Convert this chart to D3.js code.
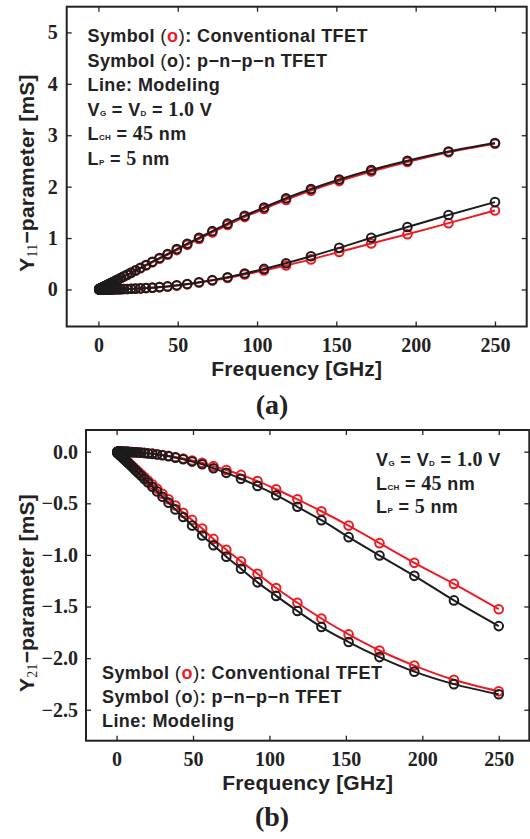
<!DOCTYPE html>
<html>
<head>
<meta charset="utf-8">
<script src="https://cdn.jsdelivr.net/npm/d3@7/dist/d3.min.js"></script>
<style>
  html, body { margin: 0; padding: 0; background: #fff; }
  svg { display: block; }
  .tick text { font-family: "Liberation Serif", "Times New Roman", serif; font-weight: bold; font-size: 20px; fill: #222; }
  .tick line { stroke: #222; stroke-width: 1.3; }
</style>
</head>
<body>
<svg id="fig" width="530" height="839"></svg>
<script>
// Frequency sweep points [GHz]
const freq = [0.5, 0.6, 0.7, 0.8, 0.9, 1.0, 1.2, 1.3, 1.5, 1.7, 1.9, 2.2, 2.5, 2.8, 3.2, 3.6, 4.1, 4.6, 5.2, 5.9,
  6.7, 7.6, 8.6, 9.8, 11.1, 12.5, 14.2, 16.1, 18.2, 20.6, 23.4, 26.5, 30.0, 34.0, 38.5, 43.6, 49.4, 56.0, 63.4, 71.8,
  81.4, 92.2, 104.4, 118.3, 134.0, 151.8, 172.0, 194.8, 220.7, 250];

// Y11 [mS], imaginary part (upper branch)
const y11ImConv = [0.008, 0.010, 0.011, 0.013, 0.014, 0.016, 0.019, 0.021, 0.024, 0.027, 0.030, 0.035, 0.039, 0.044, 0.050, 0.056, 0.064, 0.072, 0.081, 0.092,
  0.105, 0.119, 0.134, 0.153, 0.173, 0.195, 0.221, 0.251, 0.283, 0.321, 0.364, 0.412, 0.466, 0.528, 0.598, 0.675, 0.766, 0.868, 0.982, 1.110,
  1.253, 1.408, 1.566, 1.742, 1.922, 2.108, 2.295, 2.480, 2.670, 2.835];
const y11ImPnpn = [0.008, 0.010, 0.011, 0.013, 0.014, 0.016, 0.019, 0.021, 0.024, 0.027, 0.030, 0.035, 0.040, 0.045, 0.051, 0.057, 0.065, 0.073, 0.083, 0.094,
  0.107, 0.121, 0.137, 0.156, 0.177, 0.199, 0.226, 0.256, 0.289, 0.328, 0.372, 0.421, 0.477, 0.540, 0.611, 0.690, 0.785, 0.890, 1.005, 1.135,
  1.280, 1.435, 1.595, 1.775, 1.955, 2.140, 2.325, 2.505, 2.685, 2.850];
// Y11 [mS], real part (lower branch)
const y11ReConv = [0, 0, 0, 0, 0, 0, 0, 0, 0, 0, 0, 0, 0, 0, 0, 0, 0, 0.001, 0.001, 0.001,
  0.001, 0.002, 0.002, 0.003, 0.004, 0.005, 0.006, 0.008, 0.010, 0.013, 0.017, 0.021, 0.027, 0.035, 0.045, 0.058, 0.077, 0.102, 0.135, 0.175,
  0.225, 0.290, 0.370, 0.465, 0.585, 0.730, 0.895, 1.075, 1.290, 1.535];
const y11RePnpn = [0, 0, 0, 0, 0, 0, 0, 0, 0, 0, 0, 0, 0, 0, 0, 0, 0.001, 0.001, 0.001, 0.001,
  0.001, 0.002, 0.002, 0.003, 0.004, 0.005, 0.006, 0.008, 0.010, 0.013, 0.017, 0.022, 0.028, 0.036, 0.046, 0.060, 0.080, 0.105, 0.140, 0.182,
  0.238, 0.310, 0.400, 0.510, 0.645, 0.810, 1.005, 1.215, 1.450, 1.700];

// Y21 [mS], real part (upper branch)
const y21ReConv = [0, 0, 0, 0, 0, 0, 0, 0, 0, 0, 0, 0, 0, 0, 0, 0, -0.001, -0.001, -0.001, -0.001,
  -0.002, -0.002, -0.003, -0.003, -0.004, -0.005, -0.007, -0.009, -0.012, -0.015, -0.019, -0.025, -0.032, -0.041, -0.052, -0.067, -0.086, -0.108, -0.140, -0.178,
  -0.225, -0.285, -0.364, -0.462, -0.577, -0.716, -0.886, -1.077, -1.281, -1.526];
const y21RePnpn = [0, 0, 0, 0, 0, 0, 0, 0, 0, 0, 0, 0, 0, 0, 0, -0.001, -0.001, -0.001, -0.001, -0.001,
  -0.002, -0.002, -0.003, -0.004, -0.005, -0.006, -0.008, -0.010, -0.013, -0.017, -0.021, -0.027, -0.035, -0.045, -0.058, -0.074, -0.096, -0.122, -0.160, -0.205,
  -0.262, -0.332, -0.422, -0.534, -0.664, -0.828, -1.006, -1.203, -1.441, -1.690];
// Y21 [mS], imaginary part (lower branch)
const y21ImConv = [-0.007, -0.008, -0.009, -0.011, -0.012, -0.014, -0.016, -0.018, -0.020, -0.023, -0.026, -0.030, -0.034, -0.038, -0.043, -0.049, -0.056, -0.062, -0.071, -0.080,
  -0.091, -0.103, -0.117, -0.133, -0.151, -0.170, -0.193, -0.218, -0.247, -0.279, -0.317, -0.359, -0.407, -0.461, -0.522, -0.591, -0.661, -0.745, -0.845, -0.951,
  -1.063, -1.182, -1.321, -1.464, -1.616, -1.770, -1.926, -2.072, -2.210, -2.322];
const y21ImPnpn = [-0.007, -0.009, -0.010, -0.012, -0.013, -0.015, -0.017, -0.019, -0.022, -0.025, -0.028, -0.032, -0.036, -0.041, -0.046, -0.052, -0.060, -0.067, -0.076, -0.086,
  -0.097, -0.110, -0.125, -0.142, -0.161, -0.182, -0.206, -0.234, -0.264, -0.299, -0.340, -0.385, -0.436, -0.494, -0.559, -0.633, -0.716, -0.812, -0.907, -1.017,
  -1.134, -1.266, -1.397, -1.544, -1.699, -1.844, -1.990, -2.131, -2.252, -2.350];

// Axis ticks
const freqTicks = [0, 50, 100, 150, 200, 250];
const y11Ticks = [0, 1, 2, 3, 4, 5];
const y21Ticks = [-2.5, -2.0, -1.5, -1.0, -0.5, 0.0];

const RED = "#ec1c24";
const BLACK = "#1c1c1c";
const INK = "#222";
const SANS = "'Liberation Sans', Arial, Helvetica, sans-serif";
const SERIF = "'Liberation Serif', 'Times New Roman', serif";

const svg = d3.select("#fig");
svg.append("rect").attr("width", 530).attr("height", 839).attr("fill", "#fff");

const textStyles = {
  s:   { family: SANS,  weight: "bold",   size: 18, fill: INK, ls: 0.4 },
  p:   { family: SANS,  weight: "normal", size: 19, fill: INK, ls: 0.4 },
  sub: { family: SANS,  weight: "bold",   size: 8,  fill: INK, ls: 0.3 },
  num: { family: SERIF, weight: "bold",   size: 20, fill: INK, ls: 0.3 },
  ro:  { family: SANS,  weight: "bold",   size: 18, fill: RED, ls: 0.4 },
  ko:  { family: SANS,  weight: "bold",   size: 18, fill: INK, ls: 0.4 }
};

function writeLine(g, x, y, parts) {
  const t = g.append("text").attr("x", x).attr("y", y).style("white-space", "pre");
  parts.forEach(([str, key]) => {
    const st = textStyles[key];
    t.append("tspan").text(str)
      .attr("font-family", st.family).attr("font-weight", st.weight)
      .attr("font-size", st.size).attr("fill", st.fill)
      .attr("letter-spacing", st.ls);
  });
}

const legendLines = [
  [["Symbol ", "s"], ["(", "p"], ["o", "ro"], [")", "p"], [": Conventional TFET", "s"]],
  [["Symbol ", "s"], ["(", "p"], ["o", "ko"], [")", "p"], [": p\u2212n\u2212p\u2212n TFET", "s"]],
  [["Line: Modeling", "s"]]
];
const conditionLines = [
  [["V", "s"], ["G", "sub"], [" = V", "s"], ["D", "sub"], [" = ", "s"], ["1.0", "num"], [" V", "s"]],
  [["L", "s"], ["CH", "sub"], [" = ", "s"], ["45", "num"], [" nm", "s"]],
  [["L", "s"], ["P", "sub"], [" = ", "s"], ["5", "num"], [" nm", "s"]]
];

function drawPanel(cfg) {
  const x = d3.scaleLinear().domain([-20, 270]).range([cfg.left, cfg.right]);
  const y = d3.scaleLinear().domain(cfg.yDomain).range([cfg.bottom, cfg.top]);
  const g = svg.append("g");

  // inward ticks on all four sides
  g.append("g").attr("transform", `translate(0,${cfg.bottom})`)
    .call(d3.axisBottom(x).tickValues(freqTicks).tickSize(-5).tickPadding(11).tickFormat(d3.format("d")))
    .call(a => a.select(".domain").remove());
  g.append("g").attr("transform", `translate(0,${cfg.top})`)
    .call(d3.axisTop(x).tickValues(freqTicks).tickSize(-5).tickFormat(""))
    .call(a => a.select(".domain").remove());
  g.append("g").attr("transform", `translate(${cfg.left},0)`)
    .call(d3.axisLeft(y).tickValues(cfg.yTicks).tickSize(-5).tickPadding(cfg.yPad).tickFormat(d3.format(cfg.yFormat)))
    .call(a => a.select(".domain").remove());
  g.append("g").attr("transform", `translate(${cfg.right},0)`)
    .call(d3.axisRight(y).tickValues(cfg.yTicks).tickSize(-5).tickFormat(""))
    .call(a => a.select(".domain").remove());

  // data: model lines and simulated symbols
  const line = d3.line().x(d => x(d[0])).y(d => y(d[1])).curve(d3.curveMonotoneX);
  cfg.series.forEach(s => {
    const pts = freq.map((f, i) => [f, s.values[i]]);
    g.append("path").datum([[0, 0]].concat(pts)).attr("d", line)
      .attr("fill", "none").attr("stroke", s.color).attr("stroke-width", 2);
    g.append("g").selectAll("circle").data(pts).join("circle")
      .attr("cx", d => x(d[0])).attr("cy", d => y(d[1])).attr("r", 4.3)
      .attr("fill", "none").attr("stroke", s.color).attr("stroke-width", 2);
  });

  // frame
  g.append("rect").attr("x", cfg.left).attr("y", cfg.top)
    .attr("width", cfg.right - cfg.left).attr("height", cfg.bottom - cfg.top)
    .attr("fill", "none").attr("stroke", INK).attr("stroke-width", 2);

  // axis titles
  g.append("text").attr("x", (cfg.left + cfg.right) / 2).attr("y", cfg.xTitleY)
    .attr("text-anchor", "middle").attr("font-family", SANS).attr("font-weight", "bold")
    .attr("font-size", 21).attr("letter-spacing", 0.2).attr("fill", INK).text("Frequency [GHz]");
  const yt = g.append("text").attr("transform", `translate(34,${cfg.yTitleY}) rotate(-90)`)
    .attr("text-anchor", "middle").attr("font-family", SANS).attr("font-weight", "bold")
    .attr("font-size", 21).attr("letter-spacing", 0.2).attr("fill", INK);
  yt.append("tspan").text("Y");
  yt.append("tspan").text(cfg.yTitleSub).attr("font-family", SERIF).attr("font-weight", "normal")
    .attr("font-size", 14).attr("dy", 3);
  yt.append("tspan").text("\u2212parameter [mS]").attr("dy", -3);

  // panel tag
  g.append("text").attr("x", 272).attr("y", cfg.tagY).attr("text-anchor", "middle")
    .attr("font-family", SERIF).attr("font-weight", "bold").attr("font-size", 28)
    .attr("fill", INK).text(cfg.tag);
  return g;
}

const panelA = drawPanel({
  left: 66.7, right: 526.7, top: 6.7, bottom: 326.5,
  yDomain: [-0.72, 5.5], yTicks: y11Ticks, yFormat: "d", yPad: 9,
  xTitleY: 376, yTitleY: 173, yTitleSub: "11", tag: "(a)", tagY: 414,
  series: [
    { values: y11ImConv, color: RED },
    { values: y11ReConv, color: RED },
    { values: y11ImPnpn, color: BLACK },
    { values: y11RePnpn, color: BLACK }
  ]
});
legendLines.concat(conditionLines).forEach((ln, i) => writeLine(panelA, 87.5, 42 + i * 24.6, ln));

const panelB = drawPanel({
  left: 86, right: 529.3, top: 430, bottom: 740.7,
  yDomain: [-2.8, 0.21], yTicks: y21Ticks, yFormat: ".1f", yPad: 8,
  xTitleY: 790, yTitleY: 593, yTitleSub: "21", tag: "(b)", tagY: 826,
  series: [
    { values: y21ReConv, color: RED },
    { values: y21ImConv, color: RED },
    { values: y21RePnpn, color: BLACK },
    { values: y21ImPnpn, color: BLACK }
  ]
});
conditionLines.forEach((ln, i) => writeLine(panelB, 376, 466 + i * 23.6, ln));
legendLines.forEach((ln, i) => writeLine(panelB, 102, 679 + i * 24, ln));
</script>
</body>
</html>
